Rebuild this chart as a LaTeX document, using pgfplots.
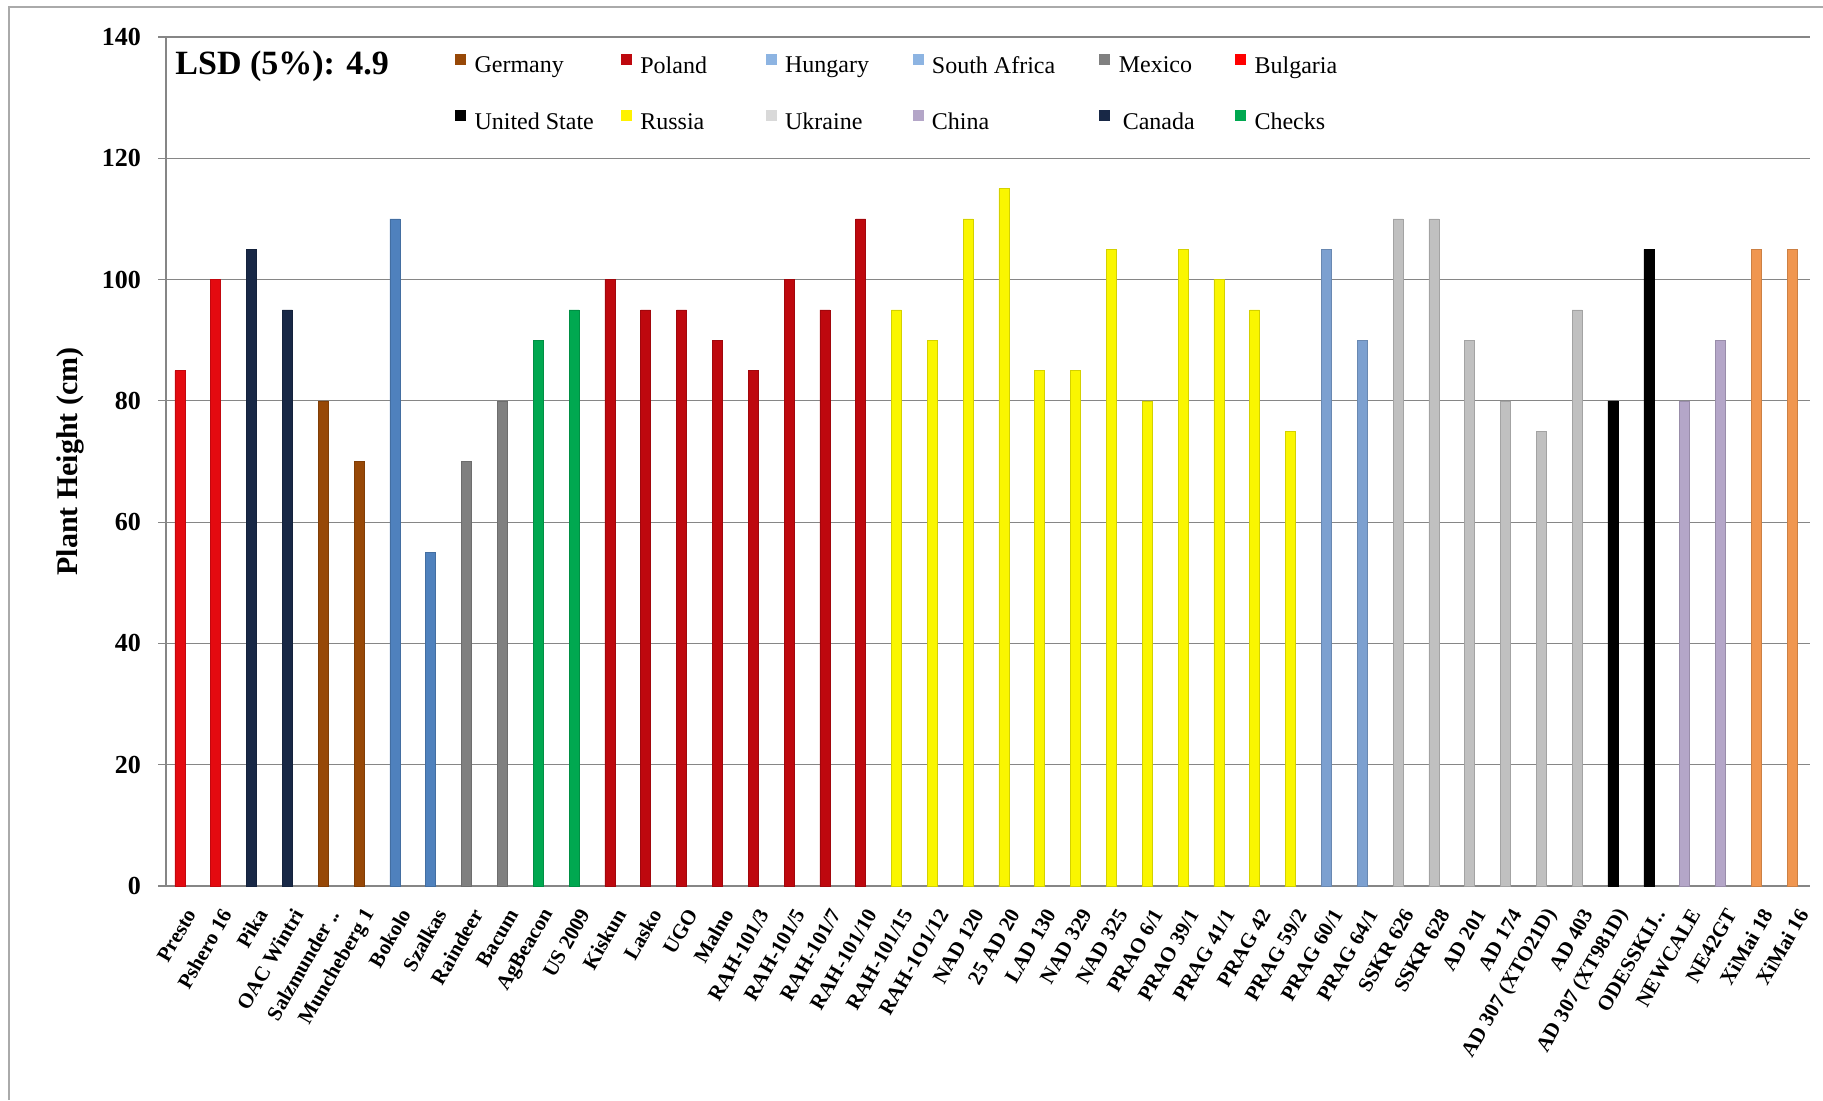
\documentclass[border=0pt]{standalone}
\usepackage{fontspec}
\setmainfont{Liberation Serif}
\usepackage{pgfplots}
\pgfplotsset{compat=1.18}

% country colours
\definecolor{cBulgaria}{RGB}{228,10,16}
\definecolor{cPoland}{RGB}{190,8,14}
\definecolor{cCanada}{RGB}{24,40,70}
\definecolor{cGermany}{RGB}{151,72,7}
\definecolor{cHungaryBar}{RGB}{79,129,189}
\definecolor{cLightBlue}{RGB}{141,180,226}
\definecolor{cSAfricaBar}{RGB}{124,160,208}
\definecolor{cMexico}{RGB}{128,128,128}
\definecolor{cChecks}{RGB}{0,168,80}
\definecolor{cRussia}{RGB}{250,246,0}
\definecolor{cUkraineBar}{RGB}{192,192,192}
\definecolor{cUkraine}{RGB}{217,217,217}
\definecolor{cUS}{RGB}{0,0,0}
\definecolor{cChina}{RGB}{180,166,200}
\definecolor{cOrange}{RGB}{240,150,80}
\definecolor{cGrid}{RGB}{134,134,134}

\pgfplotsset{
  sq/.style={legend image code/.code={\fill[#1] (0pt,1.0pt) rectangle (5pt,6pt);}},
  bars/.style={ybar, bar width=5pt, bar shift=0pt, fill=#1, draw=#1!85!black, line width=0.3pt, forget plot},
}
\newcommand{\legtxt}[2]{\makebox[#1][l]{\hspace{4.3pt}#2}}

\begin{document}
\begin{tikzpicture}
\useasboundingbox (0,0) rectangle (911.5pt,550pt);
\draw[cGrid!70, line width=0.6pt] (4.5pt,0) -- (4.5pt,546.5pt) -- (911.5pt,546.5pt);
\begin{axis}[
  at={(83pt,107pt)}, anchor=south west,
  width=822pt, height=424.5pt, scale only axis,
  xmin=-0.39, xmax=45.5,
  ymin=0, ymax=140,
  ytick={0,20,...,140},
  xtick={0,...,45},
  xticklabels={Presto, Pshero 16, Pika, OAC Wintri, Salzmunder .., Muncheberg 1,
    Bokolo, Szalkas, Raindeer, Bacum, AgBeacon, US 2009, Kiskun, Lasko, UGO,
    Malno, RAH-101/3, RAH-101/5, RAH-101/7, RAH-101/10, RAH-101/15, RAH-1O1/12,
    NAD 120, 25 AD 20, LAD 130, NAD 329, NAD 325, PRAO 6/1, PRAO 39/1,
    PRAG 41/1, PRAG 42, PRAG 59/2, PRAG 60/1, PRAG 64/1, SSKR 626, SSKR 628,
    AD 201, AD 174, AD 307 (XTO21D), AD 403, AD 307 (XT981D), ODESSKIJ..,
    NEWCALE, NE42GT, XiMai 18, XiMai 16},
  axis x line*=bottom, axis y line*=left,
  axis line style={cGrid, line width=0.6pt, -},
  ymajorgrids, grid style={cGrid, line width=0.6pt},
  xtick style={draw=none},
  ytick style={cGrid, line width=0.6pt},
  tick align=outside, major tick length=4pt,
  /pgf/number format/assume math mode=true,
  yticklabel style={font=\bfseries\fontsize{13}{15}\selectfont, xshift=-5pt},
  xticklabel style={font=\bfseries\fontsize{10.5}{12}\selectfont, rotate=60, anchor=east, yshift=-9pt, xshift=-1pt},
  ylabel={Plant Height (cm)},
  every axis y label/.style={at={(axis description cs:-0.0584,0.5)}, rotate=90, anchor=center,
    font=\bfseries\fontsize{15}{17}\selectfont},
  legend columns=6,
  legend style={draw=none, fill=none, at={(axis description cs:0.172,0.985)}, anchor=north west,
    font=\fontsize{12}{14}\selectfont, column sep=0pt, row sep=17pt, nodes={inner sep=0pt}},
  clip=false,
]
% legend swatches
\addlegendimage{sq=cGermany}\addlegendentry{\legtxt{77.5pt}{Germany}}
\addlegendimage{sq=cPoland}\addlegendentry{\legtxt{67pt}{Poland}}
\addlegendimage{sq=cLightBlue}\addlegendentry{\legtxt{68pt}{Hungary}}
\addlegendimage{sq=cLightBlue}\addlegendentry{\legtxt{88pt}{South Africa}}
\addlegendimage{sq=cMexico}\addlegendentry{\legtxt{62.5pt}{Mexico}}
\addlegendimage{sq=red}\addlegendentry{\legtxt{60pt}{Bulgaria}}
\addlegendimage{sq=cUS}\addlegendentry{\legtxt{77.5pt}{United State}}
\addlegendimage{sq=yellow}\addlegendentry{\legtxt{67pt}{Russia}}
\addlegendimage{sq=cUkraine}\addlegendentry{\legtxt{68pt}{Ukraine}}
\addlegendimage{sq=cChina}\addlegendentry{\legtxt{88pt}{China}}
\addlegendimage{sq=cCanada}\addlegendentry{\legtxt{62.5pt}{\hspace{2pt}Canada}}
\addlegendimage{sq=cChecks}\addlegendentry{\legtxt{60pt}{Checks}}

% plant heights (cm), grouped by origin
\addplot[bars=cBulgaria] coordinates {(0,85) (1,100)};
\addplot[bars=cCanada] coordinates {(2,105) (3,95)};
\addplot[bars=cGermany] coordinates {(4,80) (5,70)};
\addplot[bars=cHungaryBar] coordinates {(6,110) (7,55)};
\addplot[bars=cMexico] coordinates {(8,70) (9,80)};
\addplot[bars=cChecks] coordinates {(10,90) (11,95)};
\addplot[bars=cPoland] coordinates {(12,100) (13,95) (14,95) (15,90) (16,85) (17,100) (18,95) (19,110)};
\addplot[bars=cRussia] coordinates {(20,95) (21,90) (22,110) (23,115) (24,85) (25,85) (26,105) (27,80) (28,105) (29,100) (30,95) (31,75)};
\addplot[bars=cSAfricaBar] coordinates {(32,105) (33,90)};
\addplot[bars=cUkraineBar] coordinates {(34,110) (35,110) (36,90) (37,80) (38,75) (39,95)};
\addplot[bars=cUS] coordinates {(40,80) (41,105)};
\addplot[bars=cChina] coordinates {(42,80) (43,90)};
\addplot[bars=cOrange] coordinates {(44,105) (45,105)};

\node[anchor=west, inner sep=0pt, font=\bfseries\fontsize{17}{19}\selectfont] at (axis description cs:0.0055,0.966) {LSD (5\%): 4.9};
\end{axis}
\end{tikzpicture}
\end{document}
